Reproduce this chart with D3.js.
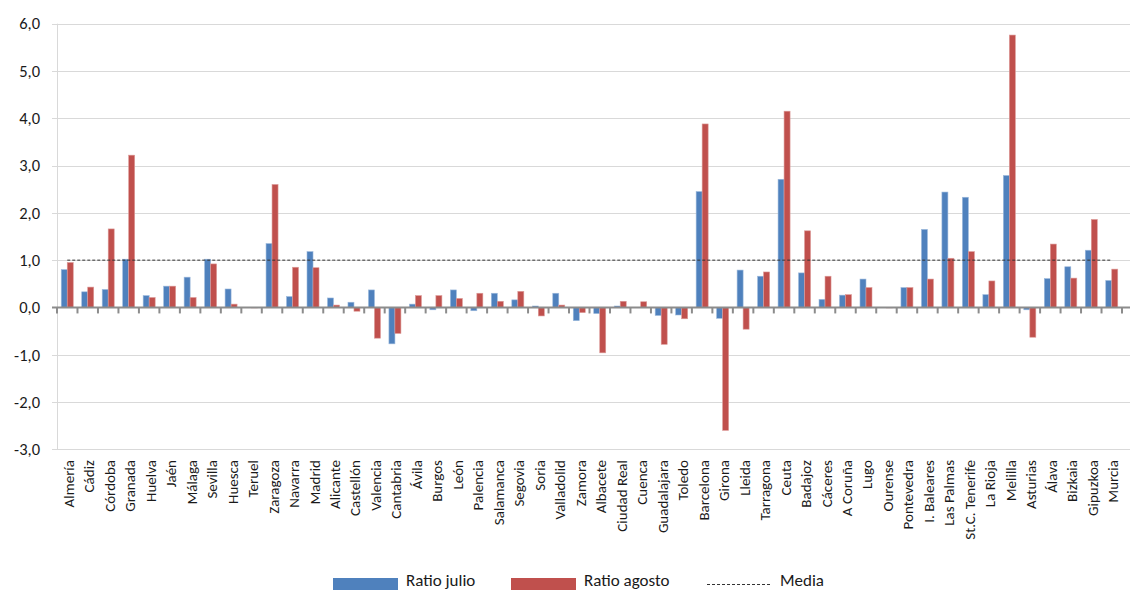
<!DOCTYPE html>
<html>
<head>
<meta charset="utf-8">
<script src="https://cdn.jsdelivr.net/npm/d3@7"></script>
<style>
  html, body { margin: 0; padding: 0; background: #fff; }
  svg { display: block; }
  text { font-family: Calibri, Carlito, Lato, "Open Sans", sans-serif; fill: #1a1a1a; }
</style>
</head>
<body>
<svg id="chart" width="1132" height="590"></svg>
<script>
// Provinces on the horizontal axis
const provincias = [
  "Almería", "Cádiz", "Córdoba", "Granada", "Huelva", "Jaén", "Málaga", "Sevilla",
  "Huesca", "Teruel", "Zaragoza", "Navarra", "Madrid", "Alicante", "Castellón", "Valencia",
  "Cantabria", "Ávila", "Burgos", "León", "Palencia", "Salamanca", "Segovia", "Soria",
  "Valladolid", "Zamora", "Albacete", "Ciudad Real", "Cuenca", "Guadalajara", "Toledo",
  "Barcelona", "Girona", "Lleida", "Tarragona", "Ceuta", "Badajoz", "Cáceres", "A Coruña",
  "Lugo", "Ourense", "Pontevedra", "I. Baleares", "Las Palmas", "St.C. Tenerife", "La Rioja",
  "Melilla", "Asturias", "Álava", "Bizkaia", "Gipuzkoa", "Murcia"
];

// July ratio per province
const ratioJulio = [
  0.80, 0.33, 0.38, 1.02, 0.25, 0.45, 0.64, 1.02,
  0.39, 0.00, 1.35, 0.23, 1.18, 0.20, 0.11, 0.37,
  -0.77, 0.07, -0.05, 0.37, -0.07, 0.30, 0.16, 0.03,
  0.30, -0.28, -0.13, 0.03, 0.00, -0.17, -0.16,
  2.45, -0.23, 0.79, 0.66, 2.71, 0.73, 0.17, 0.26,
  0.60, 0.00, 0.42, 1.65, 2.44, 2.33, 0.27,
  2.79, -0.05, 0.61, 0.86, 1.21, 0.57
];

// August ratio per province
const ratioAgosto = [
  0.95, 0.43, 1.66, 3.22, 0.21, 0.45, 0.21, 0.92,
  0.07, -0.01, 2.60, 0.85, 0.84, 0.05, -0.08, -0.65,
  -0.55, 0.25, 0.25, 0.19, 0.30, 0.13, 0.34, -0.18,
  0.05, -0.11, -0.96, 0.13, 0.12, -0.78, -0.24,
  3.88, -2.60, -0.46, 0.75, 4.15, 1.62, 0.66, 0.27,
  0.42, -0.01, 0.42, 0.60, 1.04, 1.18, 0.56,
  5.76, -0.63, 1.34, 0.62, 1.86, 0.81
];

// Reference level drawn as a dashed line
const media = 1.0;

// Value axis ticks
const yTicks = [-3, -2, -1, 0, 1, 2, 3, 4, 5, 6];

const seriesNames = ["Ratio julio", "Ratio agosto"];
const seriesColors = ["#4f81bd", "#c0504d"];
const seriesStroke = ["#9cb9dc", "#dc9a98"];

const svg = d3.select("#chart");

const plot = { left: 57, right: 1122, top: 23.7, bottom: 449.3 };

const x = d3.scaleBand()
  .domain(provincias)
  .range([plot.left, plot.right])
  .paddingInner(0)
  .paddingOuter(0);

const y = d3.scaleLinear()
  .domain([-3, 6])
  .range([plot.bottom, plot.top]);

const barW = 6;
const xs = d3.scaleBand()
  .domain(seriesNames)
  .range([-barW, barW]);

const es = d3.formatLocale({ decimal: ",", thousands: ".", grouping: [3], currency: ["", " €"], minus: "-" });
const fmt = es.format(".1f");

// Horizontal gridlines
svg.append("g")
  .selectAll("line")
  .data(yTicks.filter(t => t !== 0))
  .join("line")
  .attr("x1", plot.left - 5)
  .attr("x2", 1130)
  .attr("y1", d => Math.round(y(d)) + 0.5)
  .attr("y2", d => Math.round(y(d)) + 0.5)
  .attr("stroke", "#d9d9d9")
  .attr("stroke-width", 1);

// Vertical value axis line
svg.append("line")
  .attr("x1", plot.left + 0.5).attr("x2", plot.left + 0.5)
  .attr("y1", plot.top).attr("y2", plot.bottom)
  .attr("stroke", "#d9d9d9");

// Value axis labels
const yAxis = d3.axisLeft(y)
  .tickValues(yTicks)
  .tickFormat(fmt)
  .tickSize(0)
  .tickPadding(17);
const gy = svg.append("g")
  .attr("transform", `translate(${plot.left},0)`)
  .call(yAxis);
gy.select(".domain").remove();
gy.selectAll("text")
  .style("font-size", "16.5px")
  .attr("fill", "#1a1a1a");

// Bars
const data = provincias.map((p, i) => ({ p, values: [ratioJulio[i], ratioAgosto[i]] }));

const groups = svg.append("g")
  .selectAll("g")
  .data(data)
  .join("g")
  .attr("transform", d => `translate(${x(d.p) + x.bandwidth() / 2},0)`);

groups.selectAll("rect")
  .data(d => d.values.map((v, k) => ({ v, k })))
  .join("rect")
  .attr("x", d => xs(seriesNames[d.k]))
  .attr("width", xs.bandwidth())
  .attr("y", d => Math.min(y(d.v), y(0)))
  .attr("height", d => Math.abs(y(d.v) - y(0)))
  .attr("fill", d => seriesColors[d.k])
  .attr("stroke", d => seriesStroke[d.k])
  .attr("stroke-width", 0.6);

// Category axis along zero with ticks between categories
const gx = svg.append("g")
  .attr("transform", `translate(0,${y(0)})`);
gx.append("line")
  .attr("x1", plot.left - 5).attr("x2", 1130)
  .attr("y1", 0).attr("y2", 0)
  .attr("stroke", "#8c8c8c")
  .attr("stroke-width", 2);
gx.selectAll("line.tick")
  .data(provincias.concat(["__end"]))
  .join("line")
  .attr("class", "tick")
  .attr("x1", (d, i) => i < provincias.length ? x(d) : plot.right)
  .attr("x2", (d, i) => i < provincias.length ? x(d) : plot.right)
  .attr("y1", 0).attr("y2", 6)
  .attr("stroke", "#8c8c8c")
  .attr("stroke-width", 2);

// Category labels, rotated
svg.append("g")
  .selectAll("text")
  .data(provincias)
  .join("text")
  .attr("transform", d => `translate(${x(d) + x.bandwidth() / 2 + 1.5},460) rotate(-90)`)
  .attr("text-anchor", "end")
  .attr("dominant-baseline", "central")
  .style("font-size", "15px")
  .text(d => d);

// Media line across category centres
const line = d3.line()
  .x(d => x(d) + x.bandwidth() / 2)
  .y(() => y(media));
svg.append("path")
  .attr("d", line(provincias))
  .attr("fill", "none")
  .attr("stroke", "#333")
  .attr("stroke-width", 1)
  .attr("stroke-dasharray", "3,2");

// Legend
const legend = svg.append("g");
const legendItems = [
  { name: seriesNames[0], type: "rect", color: seriesColors[0], x: 333 },
  { name: seriesNames[1], type: "rect", color: seriesColors[1], x: 511 },
  { name: "Media", type: "line", color: "#333", x: 707 }
];
legendItems.forEach(it => {
  if (it.type === "rect") {
    legend.append("rect")
      .attr("x", it.x).attr("y", 578)
      .attr("width", 65).attr("height", 14)
      .attr("fill", it.color);
  } else {
    legend.append("line")
      .attr("x1", it.x).attr("x2", it.x + 65)
      .attr("y1", 584.5).attr("y2", 584.5)
      .attr("stroke", it.color)
      .attr("stroke-width", 1)
      .attr("stroke-dasharray", "3,2");
  }
  legend.append("text")
    .attr("x", it.x + 73)
    .attr("y", 585.5)
    .style("font-size", "17px")
    .text(it.name);
});
</script>
</body>
</html>
